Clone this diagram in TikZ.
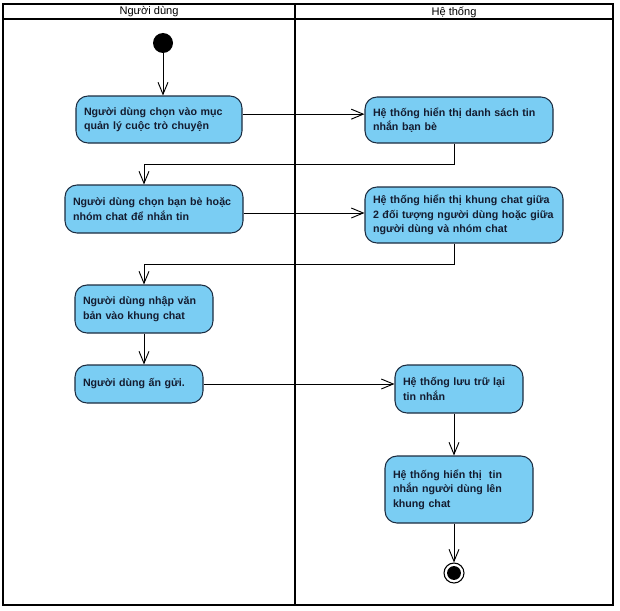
\documentclass[tikz,border=0pt]{standalone}
\usepackage{fontspec}
\setmainfont{Liberation Sans}
\usetikzlibrary{arrows.meta,positioning}
\definecolor{actfill}{HTML}{7ACDF3}
\definecolor{actline}{HTML}{1C2C40}
\definecolor{acttext}{HTML}{141C30}

\begin{document}
\begin{tikzpicture}[x=0.75pt, y=-0.75pt,
                >={Straight Barb[length=9pt,width=7.5pt]},
                every node/.append style={font=\fontsize{8.3}{10.8}\selectfont},
                act/.style={draw=actline, fill=actfill, rounded corners=9pt, line width=0.8pt,
                    align=left, inner xsep=6pt, text=acttext,
                    font=\fontsize{8}{10.8}\selectfont\bfseries},
                startnode/.style={circle, fill=black, minimum size=15pt, inner sep=0pt},
                endnode/.style={circle, draw=black, line width=0.8pt, minimum size=15pt, inner sep=0pt,
                    path picture={\fill (path picture bounding box.center) circle (5.2pt);}},
                flow/.style={->, line width=0.7pt},
                lane/.style={line width=1.3pt}]

\useasboundingbox (0,0) rectangle (620,610);
\draw[lane] (3,4) rectangle (613,605);
\draw[lane] (3,19) -- (613,19);
\draw[lane] (295,4) -- (295,605);
\node (lnd) at (149,12) {Người dùng};
\node (lht) at (454,12) {Hệ thống};

\node[startnode] (st) at (163,43) {};
\node[act, text width=112.5pt, minimum height=35.25pt] (nd1) at (159,119.5) {Người dùng chọn vào mục\\quản lý cuộc trò chuyện};
\node[act, text width=129pt, minimum height=34.5pt] (ht1) at (459,120) {Hệ thống hiển thị danh sách tin\\nhắn bạn bè};
\node[act, text width=121.5pt, minimum height=36pt] (nd2) at (154,209) {Người dùng chọn bạn bè hoặc\\nhóm chat để nhắn tin};
\node[act, text width=136.5pt, minimum height=42pt] (ht2) at (464,215) {Hệ thống hiển thị khung chat giữa\\2 đối tượng người dùng hoặc giữa\\người dùng và nhóm chat};
\node[act, text width=91.5pt, minimum height=36pt] (nd3) at (144,309) {Người dùng nhập văn\\bản vào khung chat};
\node[act, text width=84pt, minimum height=28.5pt] (nd4) at (139,384) {Người dùng ấn gửi.};
\node[act, text width=84pt, minimum height=36pt] (ht3) at (459,389) {Hệ thống lưu trữ lại\\tin nhắn};
\node[act, text width=99pt, minimum height=50.25pt] (ht4) at (459,489.5) {Hệ thống hiển thị \ tin\\nhắn người dùng lên\\khung chat};
\node[endnode] (end) at (454,573) {};

\coordinate (k1) at (144,164);
\coordinate (k2) at (144,264);

\draw[flow] (st) -- (st |- nd1.north);
\draw[flow] ([yshift=4pt]nd1.east) -- ([yshift=4pt]nd1.east -| ht1.west);
\draw[flow] ([xshift=-3.75pt]ht1.south) |- (k1) -- (k1 |- nd2.north);
\draw[flow] ([yshift=-3pt]nd2.east) -- ([yshift=-3pt]nd2.east -| ht2.west);
\draw[flow] ([xshift=-7.5pt]ht2.south) |- (k2) -- (k2 |- nd3.north);
\draw[flow] (nd3.south) -- (nd3.south |- nd4.north);
\draw[flow] (nd4.east) -- (nd4.east -| ht3.west);
\draw[flow] ([xshift=-3.75pt]ht3.south) -- ([xshift=-3.75pt]ht3.south |- ht4.north);
\draw[flow] ([xshift=-3.75pt]ht4.south) -- (end.north);

\end{tikzpicture}
\end{document}
